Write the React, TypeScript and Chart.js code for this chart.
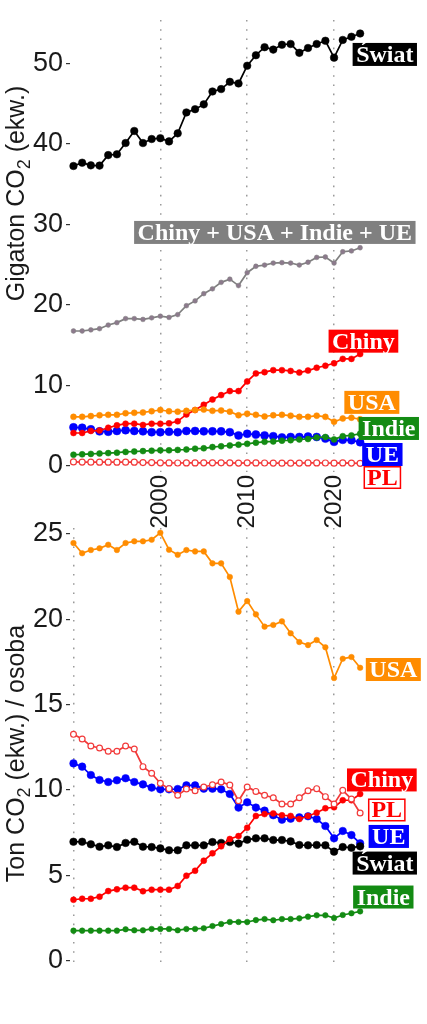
import React, { useEffect, useRef } from "react";
import { Chart, registerables } from "chart.js";

Chart.register(...registerables);

// ---------- data ----------
const YEARS = [
  1990, 1991, 1992, 1993, 1994, 1995, 1996, 1997, 1998, 1999,
  2000, 2001, 2002, 2003, 2004, 2005, 2006, 2007, 2008, 2009,
  2010, 2011, 2012, 2013, 2014, 2015, 2016, 2017, 2018, 2019,
  2020, 2021, 2022, 2023,
];

// Gigaton CO2 (ekw.)
const SWIAT_GT = [
  37.25, 37.66, 37.33, 37.3, 38.6, 38.7, 40.1, 41.6, 40.1, 40.6,
  40.7, 40.3, 41.3, 43.9, 44.3, 44.9, 46.5, 46.8, 47.7, 47.5,
  49.7, 51.0, 52.0, 51.7, 52.3, 52.4, 51.3, 51.9, 52.4, 52.8,
  50.7, 52.9, 53.3, 53.7,
];
const SUMA4_GT = [
  16.76, 16.76, 16.9, 17.05, 17.5, 17.8, 18.3, 18.3, 18.2, 18.4,
  18.6, 18.45, 18.8, 19.9, 20.5, 21.4, 22.0, 22.8, 23.2, 22.4,
  24.0, 24.8, 24.95, 25.2, 25.25, 25.2, 24.95, 25.3, 25.9, 25.95,
  25.2, 26.6, 26.7, 27.1,
];
const CHINY_GT = [
  4.1, 4.1, 4.35, 4.4, 4.75, 5.05, 5.25, 5.25, 5.1, 5.25,
  5.25, 5.3, 5.55, 6.4, 6.95, 7.6, 8.25, 8.8, 9.3, 9.3,
  10.5, 11.5, 11.65, 11.9, 11.9, 11.8, 11.6, 11.85, 12.2, 12.45,
  12.75, 13.3, 13.3, 13.9,
];
const USA_GT = [
  6.1, 6.1, 6.2, 6.3, 6.35, 6.35, 6.55, 6.6, 6.65, 6.8,
  6.95, 6.8, 6.75, 6.85, 6.95, 7.0, 6.85, 6.9, 6.75, 6.3,
  6.5, 6.35, 6.15, 6.3, 6.35, 6.25, 6.1, 6.1, 6.25, 6.1,
  5.5, 5.9, 6.0, 5.8,
];
const INDIE_GT = [
  1.4, 1.45, 1.5, 1.55, 1.6, 1.65, 1.75, 1.8, 1.85, 1.9,
  1.95, 1.95, 2.0, 2.05, 2.15, 2.2, 2.35, 2.45, 2.55, 2.65,
  2.75, 2.9, 3.0, 3.05, 3.15, 3.2, 3.3, 3.35, 3.55, 3.6,
  3.3, 3.7, 3.8, 4.0,
];
const UE_GT = [
  4.8, 4.75, 4.55, 4.3, 4.25, 4.35, 4.45, 4.35, 4.3, 4.2,
  4.2, 4.25, 4.2, 4.35, 4.35, 4.3, 4.3, 4.3, 4.2, 3.8,
  4.0, 3.9, 3.8, 3.7, 3.55, 3.6, 3.6, 3.65, 3.6, 3.4,
  3.0, 3.25, 3.2, 2.95,
];
const PL_GT = [
  0.5, 0.49, 0.48, 0.47, 0.47, 0.47, 0.48, 0.47, 0.43, 0.42,
  0.39, 0.38, 0.37, 0.38, 0.38, 0.39, 0.39, 0.4, 0.39, 0.36,
  0.39, 0.38, 0.37, 0.36, 0.35, 0.35, 0.36, 0.38, 0.38, 0.37,
  0.35, 0.38, 0.36, 0.33,
];

// Ton CO2 (ekw.) / osoba
const USA_PC = [
  24.47, 23.87, 24.06, 24.16, 24.37, 24.06, 24.47, 24.57, 24.57, 24.66,
  25.07, 24.08, 23.78, 24.06, 23.98, 23.98, 23.28, 23.28, 22.48, 20.45,
  21.07, 20.29, 19.57, 19.67, 19.88, 19.18, 18.67, 18.49, 18.79, 18.36,
  16.56, 17.69, 17.79, 17.16,
];
const PL_PC = [
  13.26, 12.99, 12.58, 12.46, 12.27, 12.27, 12.58, 12.4, 11.37, 10.98,
  10.39, 10.08, 9.69, 10.06, 9.96, 10.18, 10.31, 10.47, 10.29, 9.37,
  10.18, 9.92, 9.69, 9.55, 9.18, 9.18, 9.55, 9.96, 10.08, 9.61,
  9.18, 9.98, 9.47, 8.65,
];
const UE_PC = [
  11.56, 11.37, 10.88, 10.59, 10.47, 10.57, 10.69, 10.47, 10.33, 10.14,
  10.04, 10.04, 10.06, 10.27, 10.27, 10.08, 10.08, 10.04, 9.77, 8.97,
  9.28, 8.97, 8.79, 8.52, 8.26, 8.32, 8.4, 8.46, 8.3, 7.89,
  7.17, 7.6, 7.36, 6.88,
];
const CHINY_PC = [
  3.57, 3.63, 3.63, 3.75, 4.08, 4.18, 4.28, 4.28, 4.07, 4.16,
  4.16, 4.16, 4.38, 4.98, 5.27, 5.86, 6.29, 6.7, 7.13, 7.3,
  7.79, 8.48, 8.59, 8.63, 8.52, 8.48, 8.3, 8.48, 8.67, 8.93,
  8.99, 9.4, 9.4, 9.77,
];
const SWIAT_PC = [
  6.97, 6.97, 6.82, 6.68, 6.76, 6.66, 6.9, 6.97, 6.68, 6.66,
  6.58, 6.47, 6.47, 6.76, 6.76, 6.76, 6.95, 6.9, 6.95, 6.86,
  7.09, 7.17, 7.17, 7.07, 7.07, 6.99, 6.78, 6.76, 6.78, 6.76,
  6.39, 6.66, 6.62, 6.7,
];
const INDIE_PC = [
  1.76, 1.76, 1.76, 1.76, 1.76, 1.76, 1.84, 1.78, 1.78, 1.86,
  1.86, 1.86, 1.78, 1.86, 1.86, 1.9, 2.03, 2.15, 2.27, 2.27,
  2.27, 2.38, 2.44, 2.37, 2.44, 2.44, 2.48, 2.58, 2.66, 2.66,
  2.5, 2.68, 2.78, 2.89,
];

const TOP_Y_TICKS = [0, 10, 20, 30, 40, 50];
const BOTTOM_Y_TICKS = [0, 5, 10, 15, 20, 25];
const TOP_X_TICKS = [2000, 2010, 2020];
const BOTTOM_X_TICKS = [1990, 2000, 2010, 2020];

// ---------- styles ----------
const RED = "#ff0000";
const ORANGE = "#ff8c00";
const GREEN = "#138b13";
const BLUE = "#0000ff";
const BLACK = "#000000";
const GRAY = "#808080";
const PL_RED = "#f23a3a";
const SANS = '"Liberation Sans", Arial, sans-serif';
const SERIF = '"Liberation Serif", "Times New Roman", serif';

type SeriesDef = {
  values: number[];
  color: string;
  radius: number;
  open?: boolean;
  pointFill?: string;
};

type LabelDef = {
  text: string;
  year: number;
  value: number;
  bg: string;
  fg: string;
  border?: string;
};

const TOP_SERIES: SeriesDef[] = [
  { values: PL_GT, color: PL_RED, radius: 3, open: true },
  { values: SWIAT_GT, color: BLACK, radius: 3.8 },
  { values: SUMA4_GT, color: GRAY, radius: 2.4, pointFill: "#8c7a8c" },
  { values: INDIE_GT, color: GREEN, radius: 3 },
  { values: USA_GT, color: ORANGE, radius: 3 },
  { values: CHINY_GT, color: RED, radius: 3 },
  { values: UE_GT, color: BLUE, radius: 4 },
];

const BOTTOM_SERIES: SeriesDef[] = [
  { values: PL_PC, color: PL_RED, radius: 2.9, open: true },
  { values: CHINY_PC, color: RED, radius: 3 },
  { values: SWIAT_PC, color: BLACK, radius: 3.8 },
  { values: UE_PC, color: BLUE, radius: 3.8 },
  { values: USA_PC, color: ORANGE, radius: 2.8 },
  { values: INDIE_PC, color: GREEN, radius: 2.8 },
];

const TOP_LABELS: LabelDef[] = [
  { text: "Świat", year: 2025.84, value: 51.1, bg: BLACK, fg: "#fff" },
  { text: "Chiny + USA + Indie + UE", year: 2013.18, value: 29.0, bg: GRAY, fg: "#fff" },
  { text: "Chiny", year: 2023.38, value: 15.5, bg: RED, fg: "#fff" },
  { text: "USA", year: 2024.35, value: 7.9, bg: ORANGE, fg: "#fff" },
  { text: "Indie", year: 2026.3, value: 4.66, bg: GREEN, fg: "#fff" },
  { text: "UE", year: 2025.56, value: 1.43, bg: BLUE, fg: "#fff" },
  { text: "PL", year: 2025.56, value: -1.43, bg: "#fff", fg: RED, border: RED },
];

const BOTTOM_LABELS: LabelDef[] = [
  { text: "USA", year: 2026.82, value: 17.06, bg: ORANGE, fg: "#fff" },
  { text: "Chiny", year: 2025.5, value: 10.59, bg: RED, fg: "#fff" },
  { text: "PL", year: 2026.07, value: 8.83, bg: "#fff", fg: RED, border: RED },
  { text: "UE", year: 2026.3, value: 7.28, bg: BLUE, fg: "#fff" },
  { text: "Świat", year: 2025.84, value: 5.72, bg: BLACK, fg: "#fff" },
  { text: "Indie", year: 2025.67, value: 3.73, bg: GREEN, fg: "#fff" },
];

// ---------- plugins ----------
const seriesLabelPlugin = {
  id: "seriesLabels",
  afterDatasetsDraw(chart: any, _args: any, opts: any) {
    const items: LabelDef[] = opts.items || [];
    const { ctx } = chart;
    const xs = chart.scales.x;
    const ys = chart.scales.y;
    ctx.save();
    ctx.font = `bold 24px ${SERIF}`;
    ctx.textAlign = "center";
    ctx.textBaseline = "alphabetic";
    for (const l of items) {
      const cx = xs.getPixelForValue(l.year);
      const cy = ys.getPixelForValue(l.value);
      const tw = ctx.measureText(l.text).width;
      const w = tw + 7;
      const h = 23;
      const left = cx - w / 2;
      const top = cy - h / 2;
      ctx.fillStyle = l.bg;
      ctx.fillRect(left, top, w, h);
      if (l.border) {
        ctx.strokeStyle = l.border;
        ctx.lineWidth = 1.5;
        ctx.strokeRect(left + 0.75, top + 0.75, w - 1.5, h - 1.5);
      }
      ctx.fillStyle = l.fg;
      ctx.fillText(l.text, cx, top + 19);
    }
    ctx.restore();
  },
};

const axisTitlePlugin = {
  id: "axisTitle",
  afterDraw(chart: any, _args: any, opts: any) {
    const { ctx } = chart;
    const { x, y, main, sub, rest } = opts;
    const size = 25;
    const f = `${size}px ${SANS}`;
    const fs = `${Math.round(size * 0.7)}px ${SANS}`;
    ctx.save();
    ctx.translate(x, y);
    ctx.rotate(-Math.PI / 2);
    ctx.font = f;
    const w1 = ctx.measureText(main).width;
    const w3 = ctx.measureText(rest).width;
    ctx.font = fs;
    const w2 = ctx.measureText(sub).width;
    let cx = -(w1 + w2 + w3) / 2;
    ctx.fillStyle = "#1a1a1a";
    ctx.textAlign = "left";
    ctx.textBaseline = "alphabetic";
    ctx.font = f;
    ctx.fillText(main, cx, 0);
    cx += w1;
    ctx.font = fs;
    ctx.fillText(sub, cx, size * 0.22);
    cx += w2;
    ctx.font = f;
    ctx.fillText(rest, cx, 0);
    ctx.restore();
  },
};

// ---------- chart builder ----------
type PanelOpts = {
  series: SeriesDef[];
  labels: LabelDef[];
  yMin: number;
  yMax: number;
  yTicks: number[];
  xTicks: number[];
  showXLabels: boolean;
  padTop: number;
  xAxisHeight: number;
  title: { x: number; y: number; main: string; sub: string; rest: string };
};

function buildConfig(p: PanelOpts): any {
  return {
    type: "line",
    data: {
      datasets: p.series.map((s) => ({
        data: YEARS.map((yr, i) => ({ x: yr, y: s.values[i] })),
        borderColor: s.color,
        backgroundColor: s.color,
        borderWidth: 1.7,
        pointRadius: s.radius,
        pointBackgroundColor: s.open ? "#ffffff" : s.pointFill || s.color,
        pointBorderColor: s.color,
        pointBorderWidth: s.open ? 1.2 : 0.5,
        tension: 0,
        fill: false,
        clip: false,
      })),
    },
    options: {
      responsive: false,
      animation: false,
      events: [],
      layout: { padding: { top: p.padTop, left: 0, right: 3, bottom: 0 } },
      plugins: {
        legend: { display: false },
        tooltip: { enabled: false },
        seriesLabels: { items: p.labels },
        axisTitle: p.title,
      },
      scales: {
        x: {
          type: "linear",
          min: 1989.6,
          max: 2030.1,
          afterBuildTicks: (a: any) => {
            a.ticks = p.xTicks.map((v) => ({ value: v }));
          },
          afterFit: (a: any) => {
            a.height = p.xAxisHeight;
            a.paddingLeft = 0;
            a.paddingRight = 0;
          },
          grid: {
            display: true,
            drawOnChartArea: true,
            drawTicks: false,
            color: "#9a9a9a",
            lineWidth: 1.5,
          },
          border: { display: false, dash: [1.6, 7.6] },
          ticks: {
            display: p.showXLabels,
            autoSkip: false,
            maxRotation: 90,
            minRotation: 90,
            padding: 3,
            color: "#1a1a1a",
            font: { family: SANS, size: 24 },
            callback: (v: any) => String(v),
          },
        },
        y: {
          type: "linear",
          min: p.yMin,
          max: p.yMax,
          afterBuildTicks: (a: any) => {
            a.ticks = p.yTicks.map((v) => ({ value: v }));
          },
          afterFit: (a: any) => {
            a.width = 70;
            a.paddingTop = 0;
            a.paddingBottom = 0;
          },
          grid: {
            display: true,
            drawOnChartArea: false,
            drawTicks: true,
            tickLength: 4,
            color: "#333333",
            lineWidth: 1.2,
          },
          border: { display: false },
          ticks: {
            padding: 3,
            color: "#1a1a1a",
            font: { family: SANS, size: 27 },
            callback: (v: any) => String(v),
          },
        },
      },
    },
    plugins: [seriesLabelPlugin, axisTitlePlugin],
  };
}

function Panel(props: { opts: PanelOpts; top: number; height: number }) {
  const ref = useRef<HTMLCanvasElement | null>(null);
  useEffect(() => {
    if (!ref.current) return;
    const chart = new Chart(ref.current, buildConfig(props.opts));
    return () => chart.destroy();
  }, []);
  return (
    <canvas
      ref={ref}
      width={427}
      height={props.height}
      style={{
        position: "absolute",
        left: 0,
        top: props.top,
        width: 427,
        height: props.height,
      }}
    />
  );
}

// top panel: chartArea 20..472 (0 -> 466, 8.054 px/unit)
const TOP_PANEL: PanelOpts = {
  series: TOP_SERIES,
  labels: TOP_LABELS,
  yMin: -0.745,
  yMax: 55.376,
  yTicks: TOP_Y_TICKS,
  xTicks: TOP_X_TICKS,
  showXLabels: true,
  padTop: 20,
  xAxisHeight: 58,
  title: { x: 24, y: 193.5, main: "Gigaton CO", sub: "2", rest: " (ekw.)" },
};

// bottom panel canvas starts at 500; chartArea 528..964 page (0 -> 960.7, 17.07 px/unit)
const BOTTOM_PANEL: PanelOpts = {
  series: BOTTOM_SERIES,
  labels: BOTTOM_LABELS,
  yMin: -0.193,
  yMax: 25.35,
  yTicks: BOTTOM_Y_TICKS,
  xTicks: BOTTOM_X_TICKS,
  showXLabels: false,
  padTop: 28,
  xAxisHeight: 60,
  title: { x: 24, y: 253.5, main: "Ton CO", sub: "2", rest: " (ekw.) / osoba" },
};

export default function App() {
  return (
    <div
      style={{
        position: "absolute",
        left: 0,
        top: 0,
        width: 427,
        height: 1024,
        background: "#ffffff",
        overflow: "hidden",
      }}
    >
      <Panel opts={TOP_PANEL} top={0} height={530} />
      <Panel opts={BOTTOM_PANEL} top={500} height={524} />
    </div>
  );
}
